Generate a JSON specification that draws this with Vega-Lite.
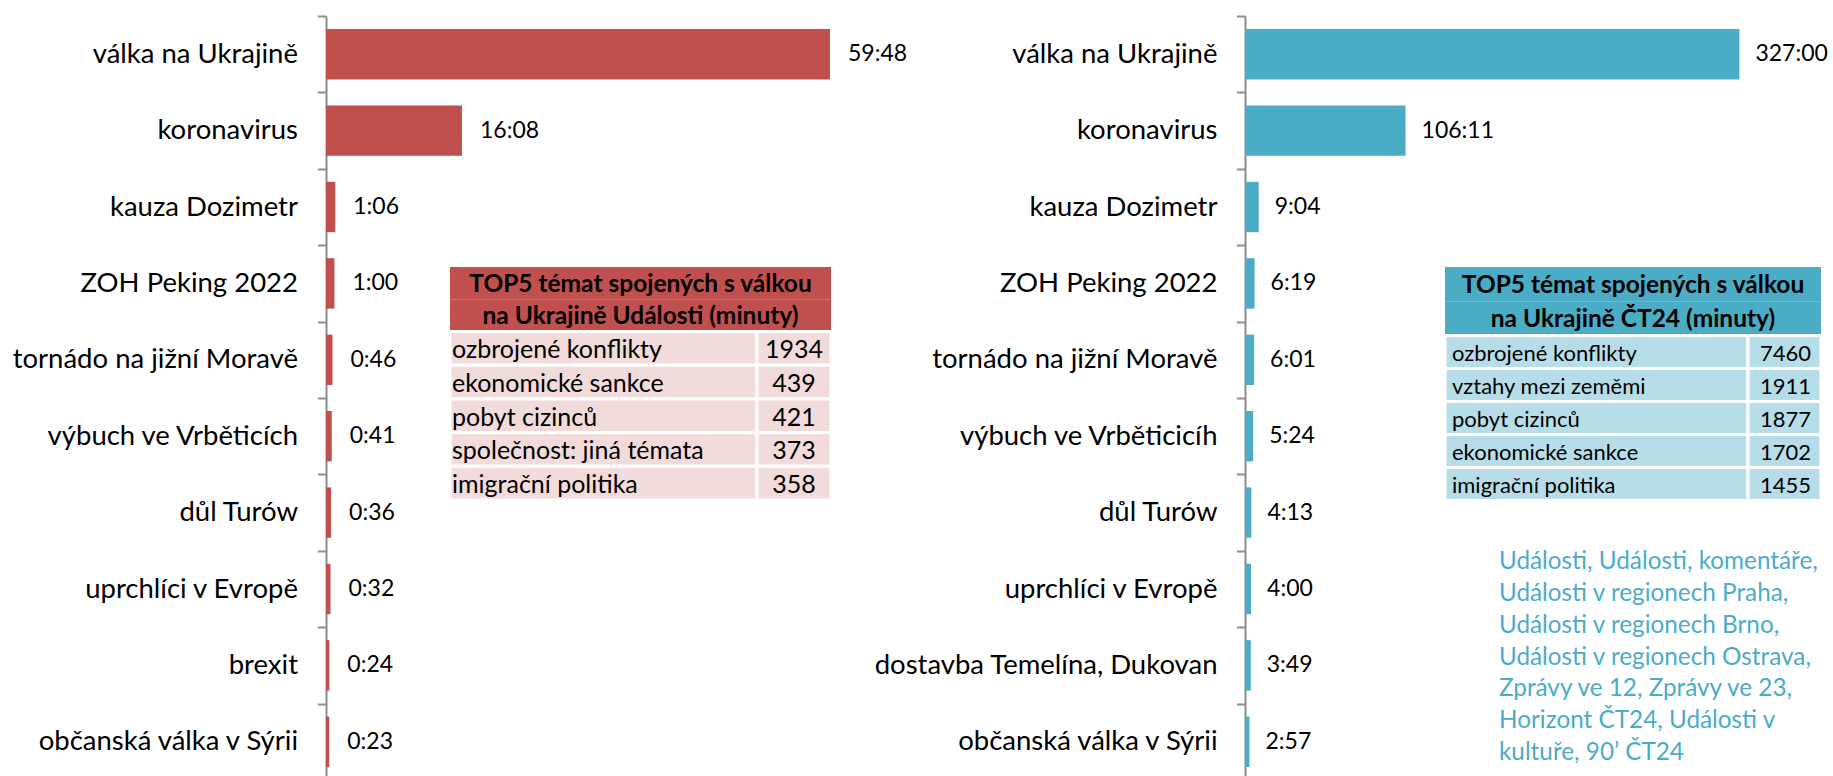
{
  "$schema": "https://vega.github.io/schema/vega-lite/v6.json",
  "padding": {"left": 12, "top": 2, "right": 0, "bottom": 0},
  "background": "white",
  "bounds": "flush",
  "spacing": 375,
  "config": {"view": {"stroke": null}, "font": "Lato"},
  "datasets": {
    "udalosti": [
      {"topic": "válka na Ukrajině", "hours": 59.8, "label": "59:48"},
      {"topic": "koronavirus", "hours": 16.133, "label": "16:08"},
      {"topic": "kauza Dozimetr", "hours": 1.1, "label": "1:06"},
      {"topic": "ZOH Peking 2022", "hours": 1.0, "label": "1:00"},
      {"topic": "tornádo na jižní Moravě", "hours": 0.767, "label": "0:46"},
      {"topic": "výbuch ve Vrběticích", "hours": 0.683, "label": "0:41"},
      {"topic": "důl Turów", "hours": 0.6, "label": "0:36"},
      {"topic": "uprchlíci v Evropě", "hours": 0.533, "label": "0:32"},
      {"topic": "brexit", "hours": 0.4, "label": "0:24"},
      {"topic": "občanská válka v Sýrii", "hours": 0.383, "label": "0:23"}
    ],
    "ct24": [
      {"topic": "válka na Ukrajině", "hours": 327.0, "label": "327:00"},
      {"topic": "koronavirus", "hours": 106.183, "label": "106:11"},
      {"topic": "kauza Dozimetr", "hours": 9.067, "label": "9:04"},
      {"topic": "ZOH Peking 2022", "hours": 6.317, "label": "6:19"},
      {"topic": "tornádo na jižní Moravě", "hours": 6.017, "label": "6:01"},
      {"topic": "výbuch ve Vrběticicíh", "hours": 5.4, "label": "5:24"},
      {"topic": "důl Turów", "hours": 4.217, "label": "4:13"},
      {"topic": "uprchlíci v Evropě", "hours": 4.0, "label": "4:00"},
      {"topic": "dostavba Temelína, Dukovan", "hours": 3.817, "label": "3:49"},
      {"topic": "občanská válka v Sýrii", "hours": 2.95, "label": "2:57"}
    ],
    "topU": [
      {"rank": 1, "theme": "ozbrojené konflikty", "minutes": 1934},
      {"rank": 2, "theme": "ekonomické sankce", "minutes": 439},
      {"rank": 3, "theme": "pobyt cizinců", "minutes": 421},
      {"rank": 4, "theme": "společnost: jiná témata", "minutes": 373},
      {"rank": 5, "theme": "imigrační politika", "minutes": 358}
    ],
    "topC": [
      {"rank": 1, "theme": "ozbrojené konflikty", "minutes": 7460},
      {"rank": 2, "theme": "vztahy mezi zeměmi", "minutes": 1911},
      {"rank": 3, "theme": "pobyt cizinců", "minutes": 1877},
      {"rank": 4, "theme": "ekonomické sankce", "minutes": 1702},
      {"rank": 5, "theme": "imigrační politika", "minutes": 1455}
    ],
    "headU": [
      {"line": 1, "text": "TOP5 témat spojených s válkou"},
      {"line": 2, "text": "na Ukrajině Události (minuty)"}
    ],
    "headC": [
      {"line": 1, "text": "TOP5 témat spojených s válkou"},
      {"line": 2, "text": "na Ukrajině ČT24 (minuty)"}
    ],
    "note": [
      {"line": 1, "text": "Události, Události, komentáře,"},
      {"line": 2, "text": "Události v regionech Praha,"},
      {"line": 3, "text": "Události v regionech Brno,"},
      {"line": 4, "text": "Události v regionech Ostrava,"},
      {"line": 5, "text": "Zprávy ve 12, Zprávy ve 23,"},
      {"line": 6, "text": "Horizont ČT24, Události v"},
      {"line": 7, "text": "kultuře, 90’ ČT24"}
    ]
  },
  "hconcat": [
    {
      "width": 544,
      "height": 764,
      "layer": [
        {
          "data": {"name": "udalosti"},
          "encoding": {
            "y": {
              "field": "topic", "type": "nominal", "sort": null,
              "scale": {"paddingInner": 0, "paddingOuter": 0},
              "axis": {
                "title": null, "labelFont": "Lato", "labelFontSize": 27.5, "labelColor": "#000000",
                "labelPadding": 20, "labelLimit": 500, "tickSize": 8.5, "tickColor": "#8C8C8C",
                "tickWidth": 2, "domainColor": "#8C8C8C", "domainWidth": 2, "tickBand": "extent",
                "maxExtent": 400
              }
            },
            "x": {"field": "hours", "type": "quantitative", "scale": {"domain": [0, 64.55], "nice": false}, "axis": null}
          },
          "layer": [
            {"mark": {"type": "bar", "color": "#C0504D", "height": {"band": 0.66}}},
            {"mark": {"type": "text", "align": "left", "baseline": "middle", "dx": 18, "fontSize": 23, "color": "#000000"},
             "encoding": {"text": {"field": "label", "type": "nominal"}}}
          ]
        },
        {
          "data": {"name": "headU"},
          "encoding": {
            "y": {"field": "line", "type": "ordinal", "scale": {"range": [251, 315.5], "paddingInner": 0, "paddingOuter": 0}, "axis": null},
            "x": {"datum": "table", "type": "nominal", "scale": {"range": [124, 505], "paddingInner": 0, "paddingOuter": 0}, "axis": null}
          },
          "layer": [
            {"mark": {"type": "rect", "color": "#C0504D"}},
            {"mark": {"type": "text", "align": "center", "baseline": "middle", "dy": 2, "fontSize": 24.5, "fontWeight": "bold", "color": "#000000"},
             "encoding": {"text": {"field": "text", "type": "nominal"}}}
          ]
        },
        {
          "data": {"name": "topU"},
          "encoding": {
            "y": {"field": "rank", "type": "ordinal", "scale": {"range": [315.5, 484], "paddingInner": 0, "paddingOuter": 0}, "axis": null},
            "x": {"datum": "theme", "type": "nominal", "scale": {"range": [124, 431], "paddingInner": 0, "paddingOuter": 0}, "axis": null}
          },
          "layer": [
            {"mark": {"type": "rect", "color": "#F2DCDB", "stroke": "#FFFFFF", "strokeWidth": 3}},
            {"mark": {"type": "text", "align": "left", "baseline": "middle", "dx": 2, "dy": 2, "fontSize": 25, "color": "#000000"},
             "encoding": {"text": {"field": "theme", "type": "nominal"}, "x": {"datum": "theme", "type": "nominal", "bandPosition": 0}}}
          ]
        },
        {
          "data": {"name": "topU"},
          "encoding": {
            "y": {"field": "rank", "type": "ordinal", "scale": {"range": [315.5, 484], "paddingInner": 0, "paddingOuter": 0}, "axis": null},
            "x": {"datum": "minutes", "type": "nominal", "scale": {"range": [431, 505], "paddingInner": 0, "paddingOuter": 0}, "axis": null}
          },
          "layer": [
            {"mark": {"type": "rect", "color": "#F2DCDB", "stroke": "#FFFFFF", "strokeWidth": 3}},
            {"mark": {"type": "text", "align": "center", "baseline": "middle", "dy": 2, "fontSize": 25, "color": "#000000"},
             "encoding": {"text": {"field": "minutes", "type": "quantitative", "format": "d"}}}
          ]
        }
      ],
      "resolve": {"scale": {"x": "independent", "y": "independent"}}
    },
    {
      "width": 588,
      "height": 764,
      "layer": [
        {
          "data": {"name": "ct24"},
          "encoding": {
            "y": {
              "field": "topic", "type": "nominal", "sort": null,
              "scale": {"paddingInner": 0, "paddingOuter": 0},
              "axis": {
                "title": null, "labelFont": "Lato", "labelFontSize": 27.5, "labelColor": "#000000",
                "labelPadding": 19.5, "labelLimit": 500, "tickSize": 8.5, "tickColor": "#8C8C8C",
                "tickWidth": 2, "domainColor": "#8C8C8C", "domainWidth": 2, "tickBand": "extent",
                "maxExtent": 400
              }
            },
            "x": {"field": "hours", "type": "quantitative", "scale": {"domain": [0, 388.9], "nice": false}, "axis": null}
          },
          "layer": [
            {"mark": {"type": "bar", "color": "#4BACC6", "height": {"band": 0.66}}},
            {"mark": {"type": "text", "align": "left", "baseline": "middle", "dx": 16, "fontSize": 23, "color": "#000000"},
             "encoding": {"text": {"field": "label", "type": "nominal"}}}
          ]
        },
        {
          "data": {"name": "headC"},
          "encoding": {
            "y": {"field": "line", "type": "ordinal", "scale": {"range": [251, 319.5], "paddingInner": 0, "paddingOuter": 0}, "axis": null},
            "x": {"datum": "table", "type": "nominal", "scale": {"range": [200, 576], "paddingInner": 0, "paddingOuter": 0}, "axis": null}
          },
          "layer": [
            {"mark": {"type": "rect", "color": "#4BACC6"}},
            {"mark": {"type": "text", "align": "center", "baseline": "middle", "dy": 2, "fontSize": 24.5, "fontWeight": "bold", "color": "#000000"},
             "encoding": {"text": {"field": "text", "type": "nominal"}}}
          ]
        },
        {
          "data": {"name": "topC"},
          "encoding": {
            "y": {"field": "rank", "type": "ordinal", "scale": {"range": [319.5, 484.5], "paddingInner": 0, "paddingOuter": 0}, "axis": null},
            "x": {"datum": "theme", "type": "nominal", "scale": {"range": [200, 503], "paddingInner": 0, "paddingOuter": 0}, "axis": null}
          },
          "layer": [
            {"mark": {"type": "rect", "color": "#B7DEE8", "stroke": "#FFFFFF", "strokeWidth": 3}},
            {"mark": {"type": "text", "align": "left", "baseline": "middle", "dx": 7, "dy": 2, "fontSize": 22, "color": "#000000"},
             "encoding": {"text": {"field": "theme", "type": "nominal"}, "x": {"datum": "theme", "type": "nominal", "bandPosition": 0}}}
          ]
        },
        {
          "data": {"name": "topC"},
          "encoding": {
            "y": {"field": "rank", "type": "ordinal", "scale": {"range": [319.5, 484.5], "paddingInner": 0, "paddingOuter": 0}, "axis": null},
            "x": {"datum": "minutes", "type": "nominal", "scale": {"range": [503, 576], "paddingInner": 0, "paddingOuter": 0}, "axis": null}
          },
          "layer": [
            {"mark": {"type": "rect", "color": "#B7DEE8", "stroke": "#FFFFFF", "strokeWidth": 3}},
            {"mark": {"type": "text", "align": "right", "baseline": "middle", "dx": -10, "dy": 2, "fontSize": 22, "color": "#000000"},
             "encoding": {"text": {"field": "minutes", "type": "quantitative", "format": "d"}, "x": {"datum": "minutes", "type": "nominal", "bandPosition": 1}}}
          ]
        },
        {
          "data": {"name": "note"},
          "mark": {"type": "text", "align": "left", "baseline": "alphabetic", "fontSize": 24.3, "color": "#4BACC6"},
          "encoding": {
            "y": {"field": "line", "type": "ordinal", "scale": {"type": "point", "range": [552.7, 744.3], "padding": 0}, "axis": null},
            "x": {"datum": "note", "type": "nominal", "bandPosition": 0, "scale": {"type": "band", "range": [254, 588], "paddingInner": 0, "paddingOuter": 0}, "axis": null},
            "text": {"field": "text", "type": "nominal"}
          }
        }
      ],
      "resolve": {"scale": {"x": "independent", "y": "independent"}}
    }
  ]
}
